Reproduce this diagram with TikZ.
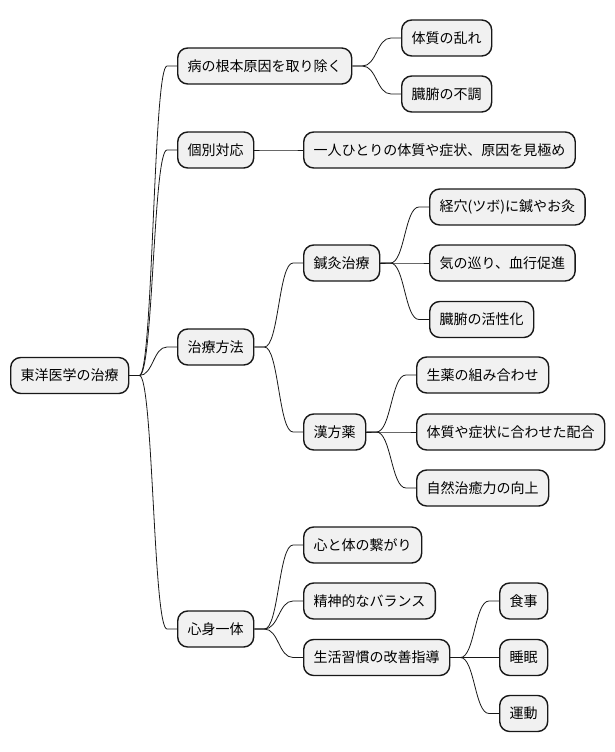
\documentclass[tikz,border=0pt]{standalone}
\usepackage{fontspec}
\newfontfamily\jpfont{Noto Sans CJK JP}
\usetikzlibrary{calc}
\definecolor{boxfill}{HTML}{F1F1F1}
\definecolor{boxline}{HTML}{181818}

\begin{document}
\begin{tikzpicture}[x=1pt,y=-1pt,line width=0.8pt,
  topic/.style={draw=boxline,fill=boxfill,line width=1.4pt,rounded corners=10pt,
    anchor=west,minimum height=36pt,inner xsep=10pt,inner ysep=0pt,
    font=\jpfont\fontsize{14}{16}\selectfont}]
  \useasboundingbox (0,0) rectangle (614,752);
  % root and first level
  \node[topic] (root) at (10,375.5) {東洋医学の治療};
  \node[topic] (cause) at (177,66) {病の根本原因を取り除く};
  \node[topic] (indiv) at (177,150) {個別対応};
  \node[topic] (methods) at (177,347) {治療方法};
  \node[topic] (mindbody) at (177,629) {心身一体};
  % second level
  \node[topic] (constit) at (401,38) {体質の乱れ};
  \node[topic] (organs) at (401,94) {臓腑の不調};
  \node[topic] (assess) at (303,150) {一人ひとりの体質や症状、原因を見極め};
  \node[topic] (acu) at (303,263) {鍼灸治療};
  \node[topic] (kampo) at (303,432) {漢方薬};
  \node[topic] (link) at (303,545) {心と体の繋がり};
  \node[topic] (balance) at (303,601) {精神的なバランス};
  \node[topic] (habits) at (303,657.5) {生活習慣の改善指導};
  % third level
  \node[topic] (tsubo) at (429,207) {経穴(ツボ)に鍼やお灸};
  \node[topic] (qi) at (429,263) {気の巡り、血行促進};
  \node[topic] (activate) at (429,319.5) {臓腑の活性化};
  \node[topic] (herbs) at (416,375) {生薬の組み合わせ};
  \node[topic] (blend) at (416,432) {体質や症状に合わせた配合};
  \node[topic] (healing) at (416,488) {自然治癒力の向上};
  \node[topic] (diet) at (499,601) {食事};
  \node[topic] (sleep) at (499,657.5) {睡眠};
  \node[topic] (exercise) at (499,713.5) {運動};
  % connectors
  \foreach \a/\b in {root/cause,root/indiv,root/methods,root/mindbody,
      cause/constit,cause/organs,indiv/assess,methods/acu,methods/kampo,
      acu/tsubo,acu/qi,acu/activate,kampo/herbs,kampo/blend,kampo/healing,
      mindbody/link,mindbody/balance,mindbody/habits,
      habits/diet,habits/sleep,habits/exercise}{
    \path (\a.east) ++(10,0) coordinate (s);
    \path (\b.west) ++(-10,0) coordinate (t);
    \path ($(s)!.5!(t)$) coordinate (m);
    \draw[boxline] (\a.east) -- (s) .. controls (m |- s) and (m |- t) .. (t) -- (\b.west);
  }
\end{tikzpicture}
\end{document}
